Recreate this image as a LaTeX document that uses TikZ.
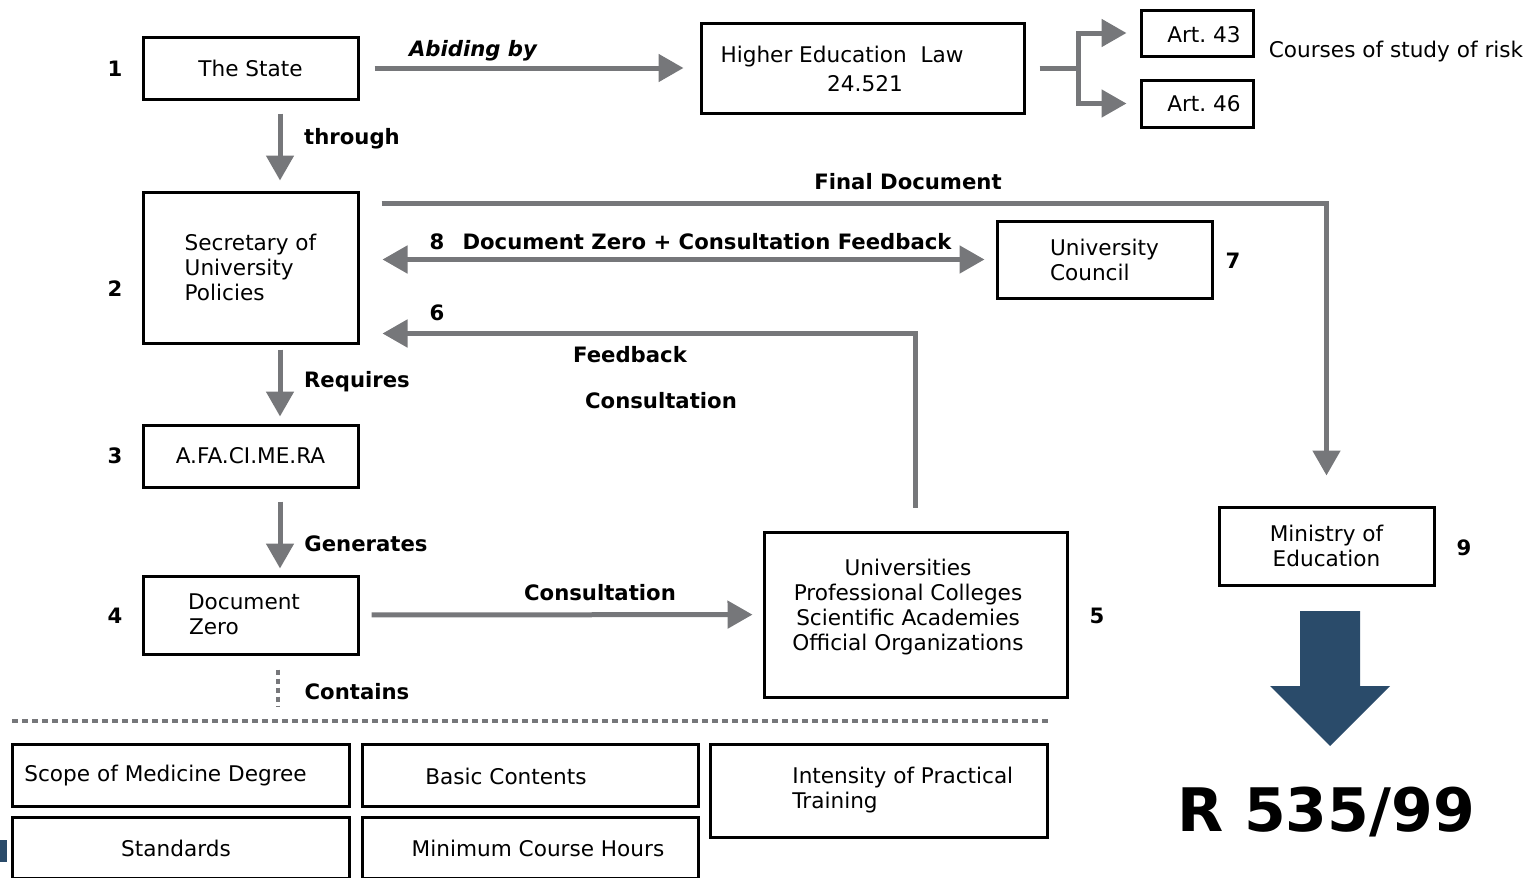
\documentclass[tikz,border=0pt]{standalone}
\usepackage{fontspec}
\setmainfont{DejaVu Sans}
\usetikzlibrary{arrows.meta}
\definecolor{arrgrey}{HTML}{76777A}
\definecolor{navy}{HTML}{2A4B6A}
\tikzset{
  box/.style={draw=black, line width=1.5pt, inner sep=0pt, align=left},
  arr/.style={draw=arrgrey, line width=2.5pt, -{Triangle[length=12.5pt,width=13.5pt]}},
  darr/.style={draw=arrgrey, line width=2.5pt, {Triangle[length=12.5pt,width=13.5pt]}-{Triangle[length=12.5pt,width=13.5pt]}},
  ln/.style={draw=arrgrey, line width=2.5pt},
  dotln/.style={draw=arrgrey, line width=2pt, dash pattern=on 3pt off 2pt},
  lbl/.style={font=\fontsize{10.6}{12.5}\selectfont\bfseries, inner sep=0pt},
  num/.style={font=\fontsize{10.6}{12.5}\selectfont\bfseries, inner sep=0pt},
  txt/.style={inner sep=0pt, align=left}
}
\begin{document}
\begin{tikzpicture}[x=0.5pt,y=-0.5pt, font=\fontsize{10.8}{12.5}\selectfont]
\useasboundingbox (0,0) rectangle (1537,878);
% boxes
\node[box, minimum width=107.5pt, minimum height=31pt] (state) at (250.5,68) {The State};
\node[box, minimum width=161.5pt, minimum height=45pt] (hel) at (862.5,68) {};
\node[txt] (helt1) at (842,57) {Higher Education\ \ Law};
\node[txt] (helt2) at (865,84) {24.521};
\node[box, minimum width=56pt, minimum height=23pt] (art43) at (1197,33) {};
\node[txt] (art43t) at (1204,35) {Art.\ 43};
\node[box, minimum width=56pt, minimum height=23.5pt] (art46) at (1197,103.5) {};
\node[txt] (art46t) at (1204,104) {Art.\ 46};
\node[txt] (risk) at (1396,52) {Courses of study of risk};
\node[box, minimum width=107.5pt, minimum height=75.5pt] (sec) at (250.5,267.5) {Secretary of\\University\\Policies};
\node[box, minimum width=107.5pt, minimum height=38.5pt] (uc) at (1104.5,259.5) {University\\Council};
\node[box, minimum width=107.5pt, minimum height=31pt] (afa) at (250.5,456) {A.FA.CI.ME.RA};
\node[box, minimum width=107.5pt, minimum height=39pt] (dz) at (250.5,615) {};
\node[txt] (dzt1) at (244,602) {Document};
\node[txt] (dzt2) at (214,627) {Zero};
\node[box, minimum width=151.5pt, minimum height=82.5pt] (univ) at (915.5,614.5) {};
\node[txt, align=center] (univt) at (908,607) {Universities\\Professional Colleges\\Scientific Academies\\Official Organizations};
\node[box, minimum width=107.5pt, minimum height=39pt, align=center] (min) at (1326.5,546) {Ministry of\\Education};
\node[box, minimum width=168.5pt, minimum height=31pt] (scope) at (180.5,775) {};
\node[txt, anchor=west] (scopet) at (24,776) {Scope of Medicine Degree};
\node[box, minimum width=168pt, minimum height=31pt] (basic) at (530,775) {};
\node[txt] (basict) at (506,776) {Basic Contents};
\node[box, minimum width=168.5pt, minimum height=46.5pt] (intens) at (878.5,790.5) {};
\node[txt, anchor=west] (intenst) at (792,790) {Intensity of Practical\\Training};
\node[box, minimum width=168.5pt, minimum height=30.5pt] (stand) at (180.5,847.5) {};
\node[txt] (standt) at (176,848) {Standards};
\node[box, minimum width=168pt, minimum height=30.5pt] (minh) at (530,847.5) {};
\node[txt] (minht) at (538,848) {Minimum Course Hours};
% numbers
\node[num] (n1) at (115,69) {1};
\node[num] (n2) at (115,289) {2};
\node[num] (n3) at (115,456) {3};
\node[num] (n4) at (115,616) {4};
\node[num] (n5) at (1097,616) {5};
\node[num] (n7) at (1233,261) {7};
\node[num] (n9) at (1464,548) {9};
% connectors
\draw[arr, shorten <=7.5pt, shorten >=8pt] (state) -- (hel);
\node[lbl, font=\fontsize{10.6}{12.5}\selectfont\bfseries\itshape] (abid) at (473,51) {Abiding by};
\coordinate (fork) at (1078,68);
\draw[ln, shorten <=7pt] (hel.east) -- (fork);
\draw[arr, shorten >=6.5pt] (fork) |- (art43.west);
\draw[arr, shorten >=6.5pt] (fork) |- (art46.west);
\draw[arr, shorten <=6.5pt, shorten >=5pt] ([xshift=14.75pt]state.south) -- ([xshift=14.75pt]sec.north);
\node[lbl] (thr) at (352,139) {through};
\draw[arr, shorten <=11pt, shorten >=15pt] ([yshift=-6.5pt]sec.north east) -| (min.north);
\node[lbl] (fd) at (908,182) {Final Document};
\draw[darr, shorten <=11.5pt, shorten >=5.5pt] (sec.east |- uc.west) -- (uc.west);
\node[lbl] (n8) at (437,242) {8};
\node[lbl] (dzcf) at (707,242) {Document Zero + Consultation Feedback};
\draw[arr, shorten <=11.5pt, shorten >=11.5pt] (univ.north) |- ([yshift=5.5pt]sec.south east);
\node[lbl] (n6) at (437,313) {6};
\node[lbl] (fb) at (630,355) {Feedback};
\node[lbl] (cons1) at (661,401) {Consultation};
\draw[arr, shorten <=2.5pt, shorten >=3.5pt] ([xshift=14.75pt]sec.south) -- ([xshift=14.75pt]afa.north);
\node[lbl] (req) at (357,382) {Requires};
\draw[arr, shorten <=6.5pt, shorten >=3pt] ([xshift=14.75pt]afa.south) -- ([xshift=14.75pt]dz.north);
\node[lbl] (gen) at (366,544) {Generates};
\draw[arr, shorten <=6pt, shorten >=5pt] (dz) -- (univ);
\node[lbl] (cons2) at (600,593) {Consultation};
\coordinate (cend) at (278,706);
\draw[dotln, dash pattern=on 2.5pt off 2pt] ([xshift=13.75pt, yshift=-7pt]dz.south) -- (cend);
\node[lbl] (cont) at (357,692) {Contains};
\coordinate (dl1) at (12,721);
\coordinate (dl2) at (1048,721);
\draw[dotln] (dl1) -- (dl2);
% big arrow
\fill[navy] (1300,611) -- (1360,611) -- (1360,686) -- (1390,686) -- (1330,746) -- (1270,686) -- (1300,686) -- cycle;
\node[inner sep=0pt, font=\fontsize{30}{35}\selectfont\bfseries] (r535) at (1326,812) {R 535/99};
\fill[navy] (0,840) rectangle (7,862);
\end{tikzpicture}
\end{document}
